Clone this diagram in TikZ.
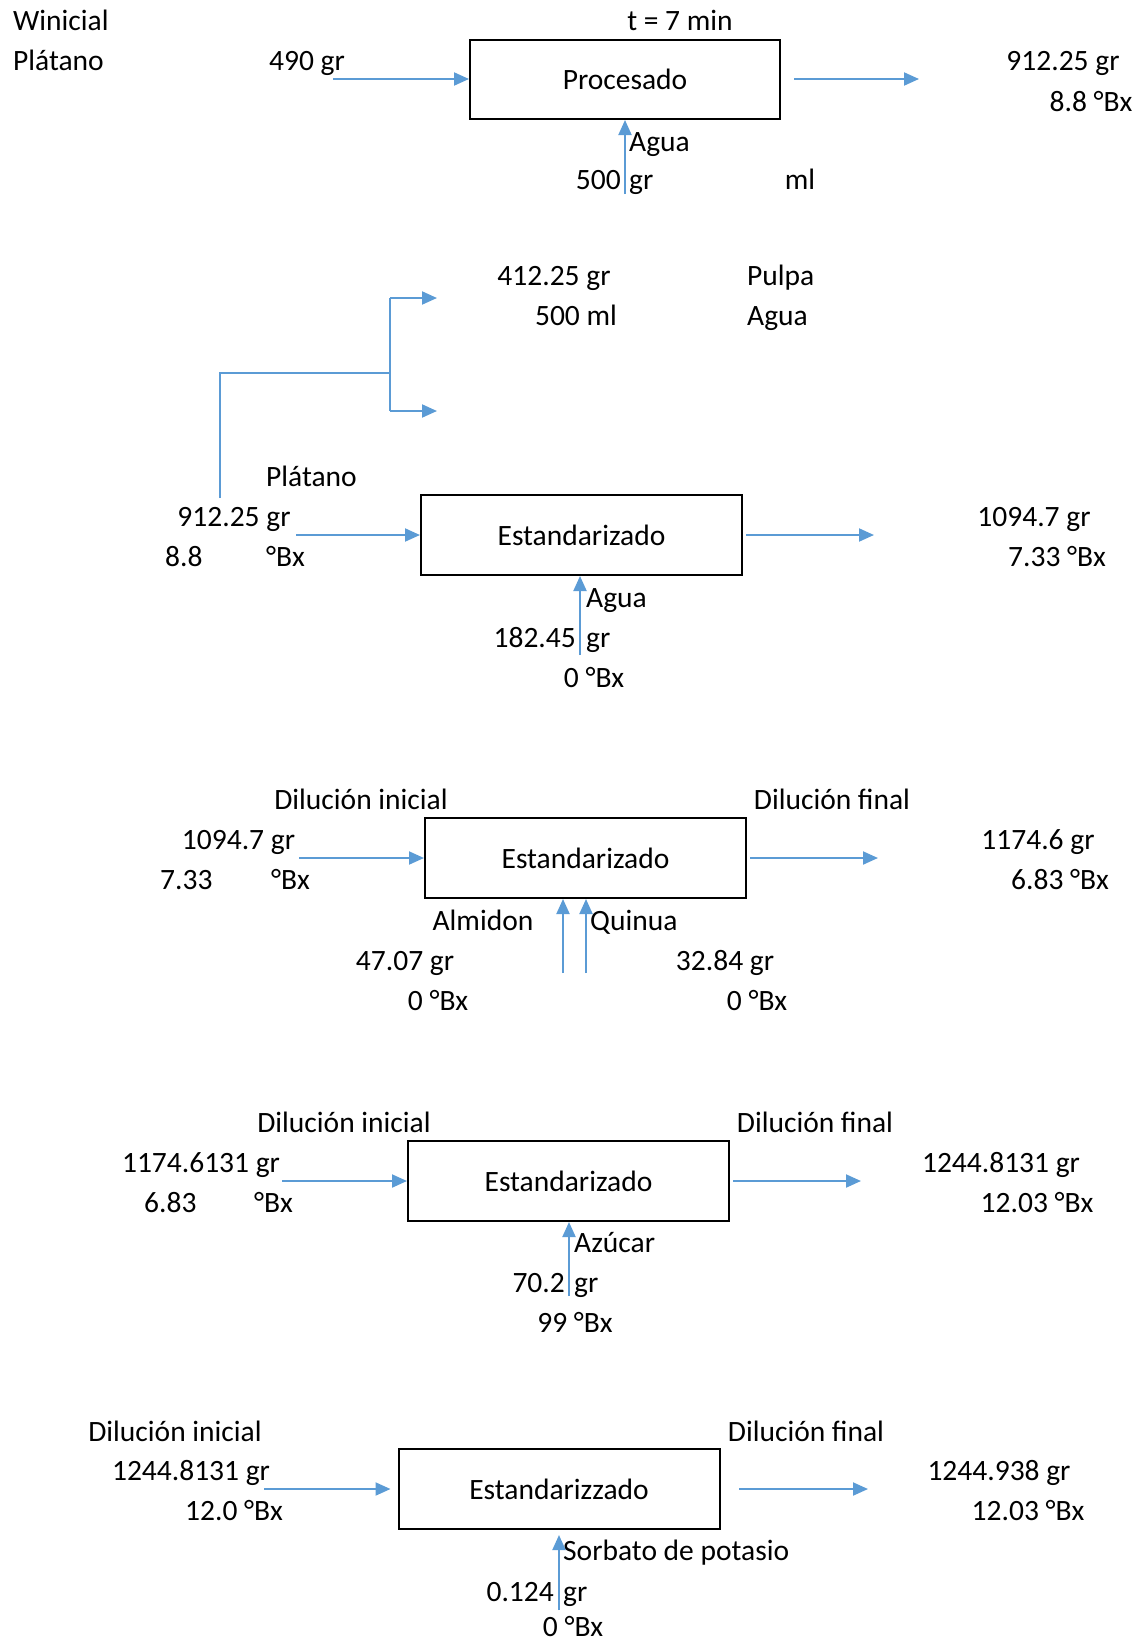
\documentclass[tikz,border=0pt]{standalone}
\usepackage{fontspec}
\setmainfont{Carlito}
\usepackage{xcolor}
\usetikzlibrary{arrows.meta}
\definecolor{flecha}{HTML}{5B9BD5}

\begin{document}
\begin{tikzpicture}[x=1pt, y=-1pt]
\tikzstyle{proceso} = [draw, line width=2pt, minimum width=321pt, minimum height=80pt, inner sep=0pt, font=\fontsize{29.5}{35}\selectfont]
\tikzstyle{etiq}    = [inner sep=0pt, text height=22pt, text depth=4pt, font=\fontsize{29.5}{35}\selectfont]
\tikzstyle{flujo}   = [draw=flecha, line width=2pt, -{Triangle[length=15pt, width=13pt]}]
\tikzstyle{linea}   = [draw=flecha, line width=2pt]
\useasboundingbox (0,0) rectangle (1140,1644);
 %%Procesado
\node [proceso, minimum width=310pt, minimum height=79pt](proc) at (625, 79.5) {Procesado};
\node [etiq, anchor=west](win) at (13, 21) {Winicial};
\node [etiq, anchor=west](pla0) at (13, 61) {Plátano};
\node [etiq](m0) at (307, 61) {490 gr};
\node [etiq](t0) at (680, 21) {t = 7 min};
\node [etiq](s0a) at (1063, 61) {912.25 gr};
\node [etiq](s0b) at (1091, 102) {8.8 °Bx};
\node [etiq, anchor=west](agua0) at (629, 142) {Agua};
\node [etiq, anchor=east](ag0n) at (621, 180) {500};
\node [etiq, anchor=west](ag0u) at (629, 180) {gr};
\node [etiq](ml0) at (800, 180) {ml};
\coordinate (e0) at (333, 79);
\coordinate (o0s) at (794, 79);
\coordinate (o0e) at (919, 79);
\coordinate (a0) at (625, 194);
\draw [flujo] (e0) -- (e0 -| proc.west);
\draw [flujo] (o0s) -- (o0e);
\draw [flujo] (a0) -- (proc.south);
 %%Separacion
\node [etiq](pul) at (554, 276) {412.25 gr};
\node [etiq](agm) at (576, 316) {500 ml};
\node [etiq, anchor=west](pulpa) at (747, 276) {Pulpa};
\node [etiq, anchor=west](agua1) at (747, 316) {Agua};
\coordinate (b1) at (220, 498);
\coordinate (b2) at (390, 373);
\coordinate (b3) at (390, 298);
\coordinate (b4) at (390, 411);
\coordinate (f1) at (437, 298);
\coordinate (f2) at (437, 411);
\draw [linea] (b1) |- (b2);
\draw [linea] (b3) -- (b4);
\draw [flujo] (b3) -- (f1);
\draw [flujo] (b4) -- (f2);
 %%Estandarizado 1
\node [proceso](est1) at (581.5, 535) {Estandarizado};
\node [etiq, anchor=west](pla1) at (266, 477) {Plátano};
\node [etiq](m1) at (234, 517) {912.25 gr};
\node [etiq, anchor=west](bx1) at (165, 557) {8.8};
\node [etiq, anchor=west](bx1u) at (266, 557) {°Bx};
\node [etiq](s1a) at (1034, 517) {1094.7 gr};
\node [etiq](s1b) at (1057, 557) {7.33 °Bx};
\node [etiq, anchor=west](agua2) at (586, 598) {Agua};
\node [etiq, anchor=east](ag2n) at (576, 638) {182.45};
\node [etiq, anchor=west](ag2u) at (586, 638) {gr};
\node [etiq](ag2b) at (594, 678) {0 °Bx};
\coordinate (e1) at (296, 535);
\coordinate (o1s) at (746, 535);
\coordinate (o1e) at (874, 535);
\coordinate (a1) at (580, 655);
\draw [flujo] (e1) -- (est1.west);
\draw [flujo] (o1s) -- (o1e);
\draw [flujo] (a1) -- (a1 |- est1.south);
 %%Estandarizado 2
\node [proceso](est2) at (585.5, 858) {Estandarizado};
\node [etiq](di2) at (361, 800) {Dilución inicial};
\node [etiq](df2) at (832, 800) {Dilución final};
\node [etiq](m2) at (238.5, 840) {1094.7 gr};
\node [etiq, anchor=west](bx2) at (160, 880) {7.33};
\node [etiq, anchor=west](bx2u) at (271, 880) {°Bx};
\node [etiq](s2a) at (1038, 840) {1174.6 gr};
\node [etiq](s2b) at (1060, 880) {6.83 °Bx};
\node [etiq](alm) at (483, 921) {Almidon};
\node [etiq, anchor=west](qui) at (590, 921) {Quinua};
\node [etiq](alma) at (405, 961) {47.07 gr};
\node [etiq](almb) at (438, 1001) {0 °Bx};
\node [etiq](quia) at (725, 961) {32.84 gr};
\node [etiq](quib) at (757, 1001) {0 °Bx};
\coordinate (e2) at (299, 858);
\coordinate (o2s) at (750, 858);
\coordinate (o2e) at (878, 858);
\coordinate (q1) at (563, 973);
\coordinate (q2) at (586, 973);
\draw [flujo] (e2) -- (est2.west);
\draw [flujo] (o2s) -- (o2e);
\draw [flujo] (q1) -- (q1 |- est2.south);
\draw [flujo] (q2) -- (q2 |- est2.south);
 %%Estandarizado 3
\node [proceso](est3) at (568.5, 1181) {Estandarizado};
\node [etiq](di3) at (344, 1123) {Dilución inicial};
\node [etiq](df3) at (815, 1123) {Dilución final};
\node [etiq](m3) at (201, 1163) {1174.6131 gr};
\node [etiq, anchor=west](bx3) at (144, 1203) {6.83};
\node [etiq, anchor=west](bx3u) at (254, 1203) {°Bx};
\node [etiq](s3a) at (1001, 1163) {1244.8131 gr};
\node [etiq](s3b) at (1037, 1203) {12.03 °Bx};
\node [etiq, anchor=west](azu) at (574, 1243) {Azúcar};
\node [etiq, anchor=east](azun) at (565, 1283) {70.2};
\node [etiq, anchor=west](azuu) at (574, 1283) {gr};
\node [etiq](azub) at (575, 1323) {99 °Bx};
\coordinate (e3) at (282, 1181);
\coordinate (o3s) at (733, 1181);
\coordinate (o3e) at (861, 1181);
\coordinate (a3) at (569, 1296);
\draw [flujo] (e3) -- (est3.west);
\draw [flujo] (o3s) -- (o3e);
\draw [flujo] (a3) -- (a3 |- est3.south);
 %%Estandarizzado 4
\node [proceso](est4) at (559, 1489) {Estandarizzado};
\node [etiq](di4) at (175, 1432) {Dilución inicial};
\node [etiq](df4) at (806, 1432) {Dilución final};
\node [etiq](m4) at (191, 1471) {1244.8131 gr};
\node [etiq](bx4) at (234, 1511) {12.0 °Bx};
\node [etiq](s4a) at (999, 1471) {1244.938 gr};
\node [etiq](s4b) at (1028, 1511) {12.03 °Bx};
\node [etiq, anchor=west](sor) at (563, 1551) {Sorbato de potasio};
\node [etiq, anchor=east](sorn) at (554, 1592) {0.124};
\node [etiq, anchor=west](soru) at (563, 1592) {gr};
\node [etiq](sorb) at (573, 1627) {0 °Bx};
\coordinate (e4) at (264, 1489);
\coordinate (o4s) at (739, 1489);
\coordinate (o4e) at (868, 1489);
\coordinate (a4) at (559, 1610);
\draw [flujo, shorten >=7pt] (e4) -- (est4.west);
\draw [flujo] (o4s) -- (o4e);
\draw [flujo, shorten >=5pt] (a4) -- (est4.south);
\end{tikzpicture}
\end{document}
